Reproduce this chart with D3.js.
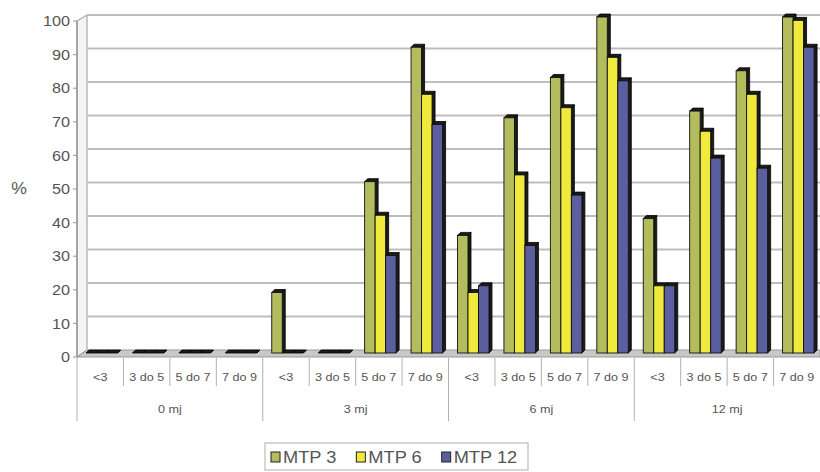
<!DOCTYPE html>
<html><head><meta charset="utf-8">
<script src="https://cdn.jsdelivr.net/npm/d3@7"></script>
<style>body{margin:0;background:#fff}svg{display:block}</style>
</head><body>
<svg id="c" width="820" height="472"></svg>
<script>
const groups = ["0 mj", "3 mj", "6 mj", "12 mj"];
const subcats = ["<3", "3 do 5", "5 do 7", "7 do 9"];
const seriesNames = ["MTP 3", "MTP 6", "MTP 12"];
const mtp3  = [0,0,0,0, 18,0,51,91, 35,70,82,100, 40,72,84,100];
const mtp6  = [0,0,0,0, 0,0,41,77, 18,53,73,88, 20,66,77,99];
const mtp12 = [0,0,0,0, 0,0,29,68, 20,32,47,81, 20,58,55,91];
const yTicks = [0,10,20,30,40,50,60,70,80,90,100];
const colors = ["#b3bd5e", "#f0ea3c", "#5c5f9f"];

const svg = d3.select("#c");
const font = "'Liberation Sans', Arial, sans-serif";
const X0 = 77, X1 = 820, DX = 10, DY = 7;
const cats = [];
groups.forEach(g => subcats.forEach(s => cats.push(g + "|" + s)));
const xCat = d3.scaleBand().domain(cats).range([X0, X1]).paddingInner(0).paddingOuter(0);
const xSer = d3.scaleBand().domain(seriesNames).range([9, 9 + 31.5]);
const yBack = d3.scaleLinear().domain([0,100]).range([350, 15]);
const yFront = d3.scaleLinear().domain([0,100]).range([357, 21]);
const yBar = d3.scaleLinear().domain([0,100]).range([353, 17]);

function stext(sel, x, y, txt, opts) {
  const sx = opts.sx || 1.1;
  return sel.append("text")
    .attr("transform", `translate(${x},${y}) scale(${sx},1)`)
    .attr("text-anchor", opts.anchor || "middle")
    .attr("dominant-baseline", "central")
    .attr("font-family", font).attr("font-size", opts.size)
    .attr("fill", opts.fill || "#555").text(txt);
}

// left wall
svg.append("polygon")
  .attr("points", [[X0, yFront(100)],[X0+DX, yBack(100)],[X0+DX, yBack(0)],[X0, yFront(0)]].join(" "))
  .attr("fill", "#f4f4f4").attr("stroke", "#aaa").attr("stroke-width", 1.2);
// floor
svg.append("polygon")
  .attr("points", [[X0, yFront(0)],[X0+DX, yBack(0)],[X1, yBack(0)],[X1, yFront(0)]].join(" "))
  .attr("fill", "#c8c8c8").attr("stroke", "#999").attr("stroke-width", 1);

// gridlines on back wall
svg.append("g").selectAll("line").data(yTicks.filter(d => d > 0)).join("line")
  .attr("x1", X0+DX).attr("x2", X1)
  .attr("y1", d => yBack(d)).attr("y2", d => yBack(d))
  .attr("stroke", "#bdbdbd").attr("stroke-width", d => d === 100 ? 2.2 : 1.8);

// front axis ticks
const ax = svg.append("g");
ax.append("line").attr("x1", X0).attr("x2", X0).attr("y1", yFront(100)).attr("y2", yFront(0))
  .attr("stroke", "#999").attr("stroke-width", 1.5);
ax.selectAll("line.t").data(yTicks).join("line").attr("class","t")
  .attr("x1", X0-4).attr("x2", X0).attr("y1", d => yFront(d)).attr("y2", d => yFront(d))
  .attr("stroke", "#999");
yTicks.forEach(t => stext(ax, 70, yFront(t), String(t), {size: 15, anchor: "end", sx: 1.08}));
stext(svg, 19, 189, "%", {size: 16, sx: 1.1});

// bars
const series = [mtp3, mtp6, mtp12];
const bd = 3, bdy = 3;
const barG = svg.append("g");
cats.forEach((c, ci) => {
  series.forEach((vals, si) => {
    const v = vals[ci];
    const x = xCat(c) + xSer(seriesNames[si]);
    const w = xSer.bandwidth();
    const y0 = yBar(0), y1 = yBar(v);
    const g = barG.append("g");
    g.append("polygon")
      .attr("points", [[x+w, y1],[x+w+bd, y1-bdy],[x+w+bd, y0-bdy],[x+w, y0]].join(" "))
      .attr("fill", "#1c1c1c").attr("stroke", "#000").attr("stroke-width", 0.8);
    g.append("polygon")
      .attr("points", [[x, y1],[x+bd, y1-bdy],[x+w+bd, y1-bdy],[x+w, y1]].join(" "))
      .attr("fill", "#1c1c1c").attr("stroke", "#000").attr("stroke-width", 0.8);
    if (v > 0) {
      g.append("rect").attr("x", x).attr("y", y1).attr("width", w).attr("height", y0 - y1)
        .attr("fill", colors[si]).attr("stroke", "#111").attr("stroke-width", 0.9);
    }
  });
});

// category axis
const cax = svg.append("g");
cats.forEach((c, ci) => {
  const x = xCat(c);
  const isGroup = ci % 4 === 0;
  cax.append("line").attr("x1", x).attr("x2", x).attr("y1", 358).attr("y2", isGroup ? 421 : 386)
    .attr("stroke", "#b0b0b0").attr("stroke-width", 1);
  stext(cax, x + xCat.bandwidth()/2, 377, subcats[ci % 4], {size: 10.5, sx: 1.2});
});
groups.forEach((g, gi) => {
  const xa = xCat(cats[gi*4]), xb = xCat(cats[gi*4+3]) + xCat.bandwidth();
  stext(cax, (xa + xb)/2, 409, g, {size: 10.5, sx: 1.2});
});

// legend
const lg = svg.append("g");
const lbox = lg.append("rect").attr("x", 265).attr("y", 443).attr("width", 263).attr("height", 27)
  .attr("fill", "#fff").attr("stroke", "#bbb").attr("stroke-width", 1.2);
let lx = 271;
seriesNames.forEach((n, i) => {
  lg.append("rect").attr("x", lx).attr("y", 452).attr("width", 9).attr("height", 10)
    .attr("fill", colors[i]).attr("stroke", "#222").attr("stroke-width", 1);
  const t = lg.append("text").attr("x", 0).attr("y", 0)
    .attr("transform", `translate(${lx + 12},457) scale(1.14,1)`)
    .attr("dominant-baseline", "central")
    .attr("font-family", font).attr("font-size", 16).attr("fill", "#555").text(n);
  lx += 12 + t.node().getComputedTextLength() * 1.14 + 20;
});
</script>
</body></html>
